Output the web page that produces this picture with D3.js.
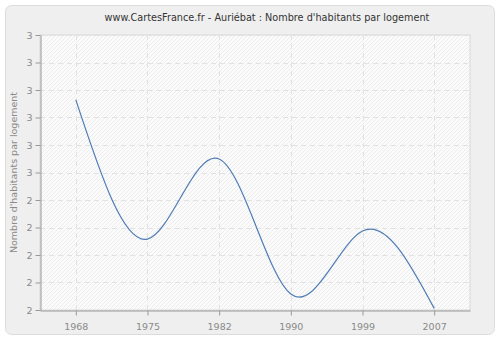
<!DOCTYPE html>
<html>
<head>
<meta charset="utf-8">
<script src="https://cdn.jsdelivr.net/npm/d3@7"></script>
<style>
  body { margin: 0; background: #fff; }
  svg { display: block; font-family: 'DejaVu Sans', Verdana, sans-serif; }
</style>
</head>
<body>
<div id="app"></div>
<script>
const title = "www.CartesFrance.fr - Auriébat : Nombre d'habitants par logement";
const yTitle = "Nombre d'habitants par logement";
const years = ['1968', '1975', '1982', '1990', '1999', '2007'];
const values = [2.764, 2.258, 2.549, 2.058, 2.287, 2.006];
const yTicks = [2, 2.1, 2.2, 2.3, 2.4, 2.5, 2.6, 2.7, 2.8, 2.9, 3];
const yTickLabels = ['2', '2', '2', '2', '2', '3', '3', '3', '3', '3', '3'];

const svg = d3.select('#app').append('svg')
  .attr('width', 500)
  .attr('height', 340);

const margin = { top: 35, right: 30, bottom: 30, left: 40 };
const width = 500 - margin.left - margin.right;
const height = 340 - margin.top - margin.bottom;

const defs = svg.append('defs');
const hatch = defs.append('pattern')
  .attr('id', 'hatch')
  .attr('patternUnits', 'userSpaceOnUse')
  .attr('width', 4)
  .attr('height', 4);
hatch.append('rect').attr('width', 4).attr('height', 4).attr('fill', '#fbfbfb');
hatch.append('path')
  .attr('d', 'M-1,1 l2,-2 M0,4 l4,-4 M3,5 l2,-2')
  .attr('stroke', '#e9e9e9')
  .attr('stroke-width', 0.8);

// outer panel
svg.append('rect')
  .attr('x', 5.5).attr('y', 5.5)
  .attr('width', 489).attr('height', 329)
  .attr('rx', 6)
  .attr('fill', '#efefef')
  .attr('stroke', '#dcdcdc');

svg.append('text')
  .attr('x', 267)
  .attr('y', 21)
  .attr('text-anchor', 'middle')
  .attr('font-size', 9.7)
  .attr('fill', '#333')
  .text(title);

const g = svg.append('g')
  .attr('transform', `translate(${margin.left},${margin.top})`);

const x = d3.scalePoint()
  .domain(years)
  .range([0, width])
  .padding(0.5);

const y = d3.scaleLinear()
  .domain([2, 3])
  .range([height, 0]);

g.append('rect')
  .attr('width', width)
  .attr('height', height)
  .attr('fill', 'url(#hatch)')
  .attr('stroke', '#d8d8d8');

// grid
g.append('g')
  .selectAll('line')
  .data(yTicks.slice(1))
  .enter().append('line')
    .attr('x1', 0).attr('x2', width)
    .attr('y1', d => Math.round(y(d)) + 0.5)
    .attr('y2', d => Math.round(y(d)) + 0.5)
    .attr('stroke', '#e2e2e2')
    .attr('stroke-dasharray', '5,4');

g.append('g')
  .selectAll('line')
  .data(years)
  .enter().append('line')
    .attr('x1', d => Math.round(x(d)) + 0.5)
    .attr('x2', d => Math.round(x(d)) + 0.5)
    .attr('y1', 0).attr('y2', height)
    .attr('stroke', '#e2e2e2')
    .attr('stroke-dasharray', '5,4');

const line = d3.line()
  .x((d, i) => x(years[i]))
  .y(d => y(d))
  .curve(d3.curveNatural);

g.append('path')
  .datum(values)
  .attr('fill', 'none')
  .attr('stroke', '#4f7db6')
  .attr('stroke-width', 1.2)
  .attr('d', line);

const yAxis = g.append('g')
  .attr('transform', 'translate(0.5,0)')
  .call(d3.axisLeft(y)
    .tickValues(yTicks)
    .tickFormat((d, i) => yTickLabels[i])
    .tickSize(5)
    .tickSizeOuter(0));

const xAxis = g.append('g')
  .attr('transform', `translate(0,${height + 0.5})`)
  .call(d3.axisBottom(x)
    .tickSize(5)
    .tickSizeOuter(0));

[xAxis, yAxis].forEach(a => {
  a.select('.domain').attr('stroke', '#999');
  a.selectAll('.tick line').attr('stroke', '#999');
  a.selectAll('.tick text')
    .attr('fill', '#8a8a8a')
    .attr('font-size', 9.5)
    .attr('font-family', "'DejaVu Sans', Verdana, sans-serif");
});
xAxis.selectAll('.tick text').attr('dy', '1.25em');

svg.append('text')
  .attr('transform', `translate(17,${margin.top + height / 2}) rotate(-90)`)
  .attr('text-anchor', 'middle')
  .attr('font-size', 9.5)
  .attr('fill', '#8a8a8a')
  .text(yTitle);
</script>
</body>
</html>
